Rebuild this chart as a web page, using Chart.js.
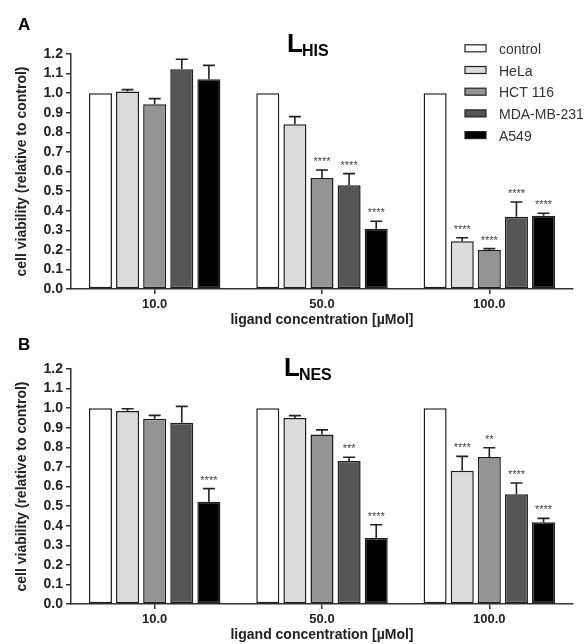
<!DOCTYPE html>
<html>
<head>
<meta charset="utf-8">
<title>cell viability</title>
<script src="https://cdn.jsdelivr.net/npm/chart.js@4.4.1/dist/chart.umd.min.js"></script>
<style>
    body { margin: 0; background: #fff; }
    #wrap { position: relative; width: 585px; height: 644px; }
    #wrap canvas { position: absolute; left: 0; }
    #chartHis { top: 0; }
    #chartNes { top: 315px; }
</style>
</head>
<body>
<div id="wrap">
    <canvas id="chartHis" width="585" height="329"></canvas>
    <canvas id="chartNes" width="585" height="329"></canvas>
</div>
<script>
/* ============================ Data  ============================ */
const concentrations = ["10.0", "50.0", "100.0"];
const cellLines = ["control", "HeLa", "HCT 116", "MDA-MB-231", "A549"];
const yTickLabels = ["0.0", "0.1", "0.2", "0.3", "0.4", "0.5", "0.6", "0.7", "0.8", "0.9", "1.0", "1.1", "1.2"];

// L_HIS (panel A)
const hisControl = [1.0, 1.0, 1.0];
const hisHela = [1.008, 0.841, 0.244];
const hisHct = [0.943, 0.567, 0.199];
const hisMda = [1.122, 0.530, 0.369];
const hisA549 = [1.071, 0.308, 0.374];

const hisControlErr = [0, 0, 0];
const hisHelaErr = [0.010, 0.039, 0.018];
const hisHctErr = [0.029, 0.041, 0.007];
const hisMdaErr = [0.051, 0.059, 0.075];
const hisA549Err = [0.071, 0.038, 0.013];

const hisControlSig = ["", "", ""];
const hisHelaSig = ["", "", "****"];
const hisHctSig = ["", "****", "****"];
const hisMdaSig = ["", "****", "****"];
const hisA549Sig = ["", "****", "****"];

// L_NES (panel B)
const nesControl = [1.0, 1.0, 1.0];
const nesHela = [0.986, 0.950, 0.681];
const nesHct = [0.946, 0.865, 0.751];
const nesMda = [0.926, 0.730, 0.560];
const nesA549 = [0.522, 0.337, 0.417];

const nesControlErr = [0, 0, 0];
const nesHelaErr = [0.011, 0.012, 0.073];
const nesHctErr = [0.017, 0.024, 0.047];
const nesMdaErr = [0.083, 0.019, 0.058];
const nesA549Err = [0.067, 0.068, 0.020];

const nesControlSig = ["", "", ""];
const nesHelaSig = ["", "", "****"];
const nesHctSig = ["", "", "**"];
const nesMdaSig = ["", "***", "****"];
const nesA549Sig = ["****", "****", "****"];

const barColors = ["#ffffff", "#dcdcdc", "#949494", "#555555", "#000000"];
const FONT = '"Liberation Sans", Arial, Helvetica, sans-serif';

/* ============================ Plugins  ============================ */
// error bars (upper only) + significance stars
const errorBarPlugin = {
    id: "errorBars",
    afterDatasetsDraw(chart) {
        const ctx = chart.ctx;
        const yScale = chart.scales.y;
        chart.data.datasets.forEach((ds, i) => {
            const meta = chart.getDatasetMeta(i);
            meta.data.forEach((bar, j) => {
                const err = ds.errors[j];
                let top = bar.y;
                if (err > 0) {
                    top = yScale.getPixelForValue(ds.data[j] + err);
                    ctx.save();
                    ctx.strokeStyle = "#222";
                    ctx.lineWidth = 1.6;
                    ctx.beginPath();
                    ctx.moveTo(bar.x, bar.y);
                    ctx.lineTo(bar.x, top);
                    ctx.moveTo(bar.x - 6, top);
                    ctx.lineTo(bar.x + 6, top);
                    ctx.stroke();
                    ctx.restore();
                }
                if (ds.stars[j]) {
                    ctx.save();
                    ctx.fillStyle = "#444";
                    ctx.font = "11px " + FONT;
                    ctx.textAlign = "center";
                    ctx.textBaseline = "alphabetic";
                    ctx.fillText(ds.stars[j], bar.x, top - 5);
                    ctx.restore();
                }
            });
        });
    },
};

// panel letter, L with subscript, legend
const decorPlugin = {
    id: "decor",
    afterDraw(chart, args, opts) {
        const ctx = chart.ctx;
        ctx.save();
        ctx.fillStyle = "#000";
        ctx.textBaseline = "alphabetic";
        ctx.font = "bold 17px " + FONT;
        ctx.fillText(opts.letter, 18, opts.letterY);

        ctx.font = "bold 26px " + FONT;
        ctx.fillText("L", opts.titleX, opts.titleY);
        const w = ctx.measureText("L").width;
        ctx.font = "bold 16px " + FONT;
        ctx.fillText(opts.sub, opts.titleX + w - 1, opts.titleY + 4);

        if (opts.legend) {
            chart.data.datasets.forEach((ds, i) => {
                const cy = 48.3 + i * 21.7;
                ctx.fillStyle = ds.backgroundColor;
                ctx.fillRect(465, cy - 3.5, 21, 7);
                ctx.strokeStyle = "#222";
                ctx.lineWidth = 1.2;
                ctx.strokeRect(465, cy - 3.5, 21, 7);
                ctx.fillStyle = "#333";
                ctx.font = "14px " + FONT;
                ctx.fillText(ds.label, 499, cy + 5.5);
            });
        }
        ctx.restore();
    },
};

/* ============================ Charts  ============================ */
function makePanel(canvasId, values, errors, stars, decor) {
    return new Chart(document.getElementById(canvasId), {
        type: "bar",
        data: {
            labels: concentrations,
            datasets: cellLines.map((name, i) => ({
                label: name,
                data: values[i],
                errors: errors[i],
                stars: stars[i],
                backgroundColor: barColors[i],
                borderColor: "#1e1e1e",
                borderWidth: 1.5,
                borderSkipped: false,
                barPercentage: 0.85,
                categoryPercentage: 0.81,
            })),
        },
        options: {
            responsive: false,
            animation: false,
            devicePixelRatio: 1,
            layout: {
                padding: { left: 0, right: 12, top: 54, bottom: 0 },
            },
            scales: {
                x: {
                    afterFit: (scale) => { scale.height = 40; },
                    grid: {
                        offset: false,
                        drawOnChartArea: false,
                        tickLength: 5,
                        color: "#333",
                        lineWidth: 1.5,
                    },
                    border: { display: true, color: "#333", width: 1.5 },
                    ticks: {
                        color: "#222",
                        font: { family: FONT, size: 13, weight: "bold" },
                        padding: 3,
                    },
                    title: {
                        display: true,
                        text: "ligand concentration [µMol]",
                        color: "#222",
                        font: { family: FONT, size: 14, weight: "bold" },
                        padding: 0,
                    },
                },
                y: {
                    min: 0,
                    max: 1.2,
                    afterFit: (scale) => { scale.width = 71; },
                    grid: {
                        drawOnChartArea: false,
                        tickLength: 5,
                        color: "#333",
                        lineWidth: 1.5,
                    },
                    border: { display: true, color: "#333", width: 1.5 },
                    ticks: {
                        stepSize: 0.1,
                        autoSkip: false,
                        color: "#222",
                        font: { family: FONT, size: 14, weight: "bold" },
                        padding: 3,
                        callback: (value, index) => yTickLabels[index],
                    },
                    title: {
                        display: true,
                        text: "cell viability (relative to control)",
                        color: "#222",
                        font: { family: FONT, size: 14, weight: "bold" },
                        padding: { top: 14, bottom: 0 },
                    },
                },
            },
            plugins: {
                legend: { display: false },
                tooltip: { enabled: false },
                decor: decor,
            },
        },
        plugins: [errorBarPlugin, decorPlugin],
    });
}

const chartHis = makePanel(
    "chartHis",
    [hisControl, hisHela, hisHct, hisMda, hisA549],
    [hisControlErr, hisHelaErr, hisHctErr, hisMdaErr, hisA549Err],
    [hisControlSig, hisHelaSig, hisHctSig, hisMdaSig, hisA549Sig],
    { letter: "A", letterY: 30, sub: "HIS", titleX: 287, titleY: 51.7, legend: true }
);

const chartNes = makePanel(
    "chartNes",
    [nesControl, nesHela, nesHct, nesMda, nesA549],
    [nesControlErr, nesHelaErr, nesHctErr, nesMdaErr, nesA549Err],
    [nesControlSig, nesHelaSig, nesHctSig, nesMdaSig, nesA549Sig],
    { letter: "B", letterY: 35, sub: "NES", titleX: 284, titleY: 60.7, legend: false }
);
</script>
</body>
</html>
